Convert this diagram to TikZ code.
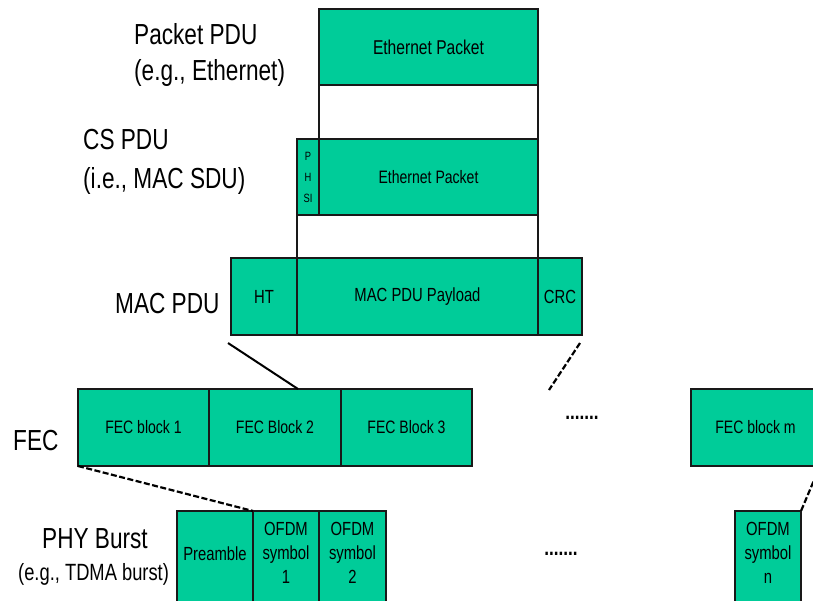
\documentclass[tikz,border=0pt]{standalone}
\usepackage{fontspec}
\setmainfont{Liberation Sans}[FakeStretch=0.78]
\usetikzlibrary{calc}
\definecolor{pdugreen}{RGB}{0,204,153}
\newcommand\biglbl{\fontsize{29}{34}\selectfont}
\newcommand\midlbl{\fontsize{23.5}{30}\selectfont}
\newcommand\boxtxt{\fontsize{19}{24}\selectfont}
\newcommand\tinytxt{\fontsize{12}{21}\selectfont}
\begin{document}
\begin{tikzpicture}[x=1pt,y=-1pt,
  cell/.style={draw=black!90, fill=pdugreen, line width=1.5pt, inner sep=0pt, outer sep=0pt,
    anchor=north west, align=center, font=\boxtxt},
  frame/.style={draw=black!90, line width=1.5pt},
  link/.style={draw=black, line width=2pt},
  dlink/.style={draw=black, line width=2.2pt, dash pattern=on 6pt off 2.5pt},
  lbl/.style={anchor=base west, inner sep=0pt, font=\biglbl},
  dots/.style={inner sep=0pt, font=\bfseries\fontsize{22}{22}\selectfont}]
\useasboundingbox (0,0) rectangle (813,600);
\clip (0,0) rectangle (813,600);
% labels
\node[lbl] (l1) at (134,44) {Packet PDU};
\node[lbl] (l2) at (134,80) {(e.g., Ethernet)};
\node[lbl] (l3) at (83,149) {CS PDU};
\node[lbl] (l4) at (83,188) {(i.e., MAC SDU)};
\node[lbl] (l5) at (115,313) {MAC PDU};
\node[lbl] (l6) at (13,450) {FEC};
\node[lbl] (l7) at (42,548) {PHY Burst};
\node[lbl, font=\midlbl] (l8) at (18,580) {(e.g., TDMA burst)};
% packet PDU
\node[cell, minimum width=219pt, minimum height=76pt, font=\fontsize{20}{24}\selectfont] (eth1) at (319,9) {Ethernet Packet};
% CS PDU
\node[cell, minimum width=22pt, minimum height=76pt, font=\tinytxt] (phsi) at (297,139) {P\\H\\SI};
\node[cell, minimum width=219pt, minimum height=76pt, font=\fontsize{18}{24}\selectfont] (eth2) at (319,139) {Ethernet Packet};
\draw[frame] (eth1.south west) -- (eth2.north west);
\draw[frame] (eth1.south east) -- (eth2.north east);
% MAC PDU
\node[cell, minimum width=66pt, minimum height=77pt] (ht) at (231,258) {HT};
\node[cell, minimum width=241pt, minimum height=77pt] (pay) at (297,258) {MAC PDU Payload};
\node[cell, minimum width=44pt, minimum height=77pt] (crc) at (538,258) {CRC};
\draw[frame] (phsi.south west) -- (pay.north west);
\draw[frame] (eth2.south east) -- (pay.north east);
% FEC
\node[cell, minimum width=131pt, minimum height=77pt, font=\fontsize{18}{24}\selectfont] (fec1) at (78,389) {FEC block 1};
\node[cell, minimum width=132pt, minimum height=77pt, font=\fontsize{18}{24}\selectfont] (fec2) at (209,389) {FEC Block 2};
\node[cell, minimum width=131pt, minimum height=77pt, font=\fontsize{18}{24}\selectfont] (fec3) at (341,389) {FEC Block 3};
\node[cell, minimum width=129pt, minimum height=77pt, font=\fontsize{18}{24}\selectfont] (fecm) at (691,389) {FEC block m};
\node[dots] (d1) at (582,418) {.......};
% PHY burst
\node[cell, minimum width=76pt, minimum height=100pt] (pre) at (177,511) {};
\node[font=\boxtxt, inner sep=0pt] (pret) at ($(pre.north)+(0,43)$) {Preamble};
\node[cell, minimum width=66pt, minimum height=100pt] (o1) at (253,511) {};
\node[font=\boxtxt, align=center, inner sep=0pt, anchor=north] (o1t) at ($(o1.north)+(0,11)$) {OFDM\\symbol\\1};
\node[cell, minimum width=67pt, minimum height=100pt] (o2) at (319,511) {};
\node[font=\boxtxt, align=center, inner sep=0pt, anchor=north] (o2t) at ($(o2.north)+(0,11)$) {OFDM\\symbol\\2};
\node[cell, minimum width=66pt, minimum height=100pt] (on) at (735,511) {};
\node[font=\boxtxt, align=center, inner sep=0pt, anchor=north] (ont) at ($(on.north)+(0,11)$) {OFDM\\symbol\\n};
\node[dots] (d2) at (561,554) {.......};
% connectors between layers
\coordinate (m1) at ($(ht.south west)+(-3,8)$);
\coordinate (f2) at ($(fec2.north west)+(89,0)$);
\draw[link] (m1) -- (f2);
\coordinate (m2) at ($(crc.south east)+(-2,8)$);
\coordinate (f3) at (549,390);
\draw[dlink] (m2) -- (f3);
\draw[dlink] (fec1.south west) -- (pre.north east);
\draw[dlink] (fecm.south east) -- (on.north east);
\end{tikzpicture}
\end{document}
